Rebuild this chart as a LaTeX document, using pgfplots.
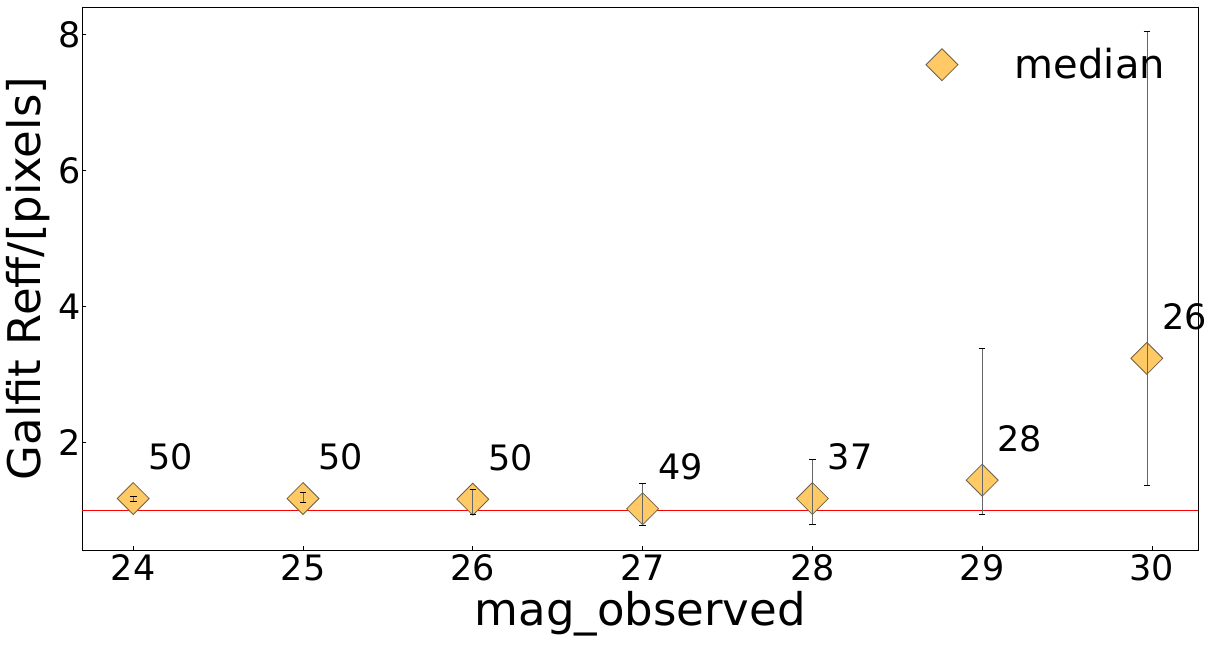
\documentclass[border=0pt]{standalone}
\usepackage{fontspec}
\setmainfont{DejaVu Sans}
\usepackage{pgfplots}
\usepackage{pgfplotstable}
\pgfplotsset{compat=1.18}

\definecolor{mfill}{RGB}{255,201,102}
\definecolor{medge}{RGB}{110,96,72}

% x, median, upper and lower error, count
\pgfplotstableread{
x      y     ep    em    n
24     1.18  0.03  0.04  50
25     1.18  0.09  0.05  50
26     1.17  0.14  0.22  50
27     1.03  0.37  0.25  49
28     1.18  0.58  0.38  37
29     1.45  1.93  0.50  28
29.97  3.24  4.80  1.87  26
}\medtab

\begin{document}
\begin{tikzpicture}
\begin{axis}[
  name=ax,
  scale only axis,
  width=1116pt, height=542.7pt,
  xmin=23.70, xmax=30.273,
  ymin=0.424, ymax=8.397,
  xtick={24,25,26,27,28,29,30},
  ytick={2,4,6,8},
  xtick pos=bottom, ytick pos=left,
  tick align=inside,
  major tick length=4pt,
  tick style={black, line width=0.8pt},
  axis line style={line width=0.8pt},
  clip=false,
  clip marker paths=true,
  /pgf/number format/assume math mode=true,
  ticklabel style={font=\fontsize{35}{42}\selectfont},
  xticklabel style={anchor=base, yshift=-30.5pt, inner sep=0pt},
  yticklabel style={anchor=east, inner sep=0pt, xshift=-1pt},
  xlabel={mag\_observed},
  ylabel={Galfit Reff/[pixels]},
  xlabel style={font=\fontsize{45}{54}\selectfont, at={(axis description cs:0.5,0)}, anchor=base, yshift=-75pt, inner sep=0pt},
  ylabel style={font=\fontsize{45}{54}\selectfont, at={(axis description cs:0,0.5)}, anchor=base, yshift=42pt, inner sep=0pt},
  legend style={draw=none, fill=none, inner sep=0pt, at={(axis description cs:0.7558,0.948)}, anchor=north west,
    font=\fontsize{40}{48}\selectfont, column sep=0pt, nodes={inner sep=0pt}},
  legend cell align=left,
  legend image code/.code={\path[draw=none, fill=none] (-16pt,-4pt) rectangle (73pt,28pt); \draw[#1] plot coordinates {(0pt,-1pt)};},
]
\addplot[red, line width=0.7pt, forget plot] coordinates {(23.70,1.0) (30.273,1.0)};
\addplot[only marks, mark=square*, mark size=11.3pt,
  mark options={rotate=45, fill=mfill, draw=medge, line width=0.8pt},
  point meta=explicit symbolic,
  nodes near coords,
  every node near coord/.append style={black, anchor=base west, xshift=15pt, yshift=29pt, inner sep=0pt,
    font=\fontsize{35}{42}\selectfont}]
  table[x=x, y=y, meta=n] {\medtab};
\addlegendentry{median}
\addplot[draw=none, mark=none, forget plot,
  error bars/.cd, y dir=both, y explicit,
  error mark=-, error mark options={rotate=90, draw=black, mark size=3.3pt, line width=0.6pt},
  error bar style={draw=black!60, line width=0.7pt}]
  table[x=x, y=y, y error plus=ep, y error minus=em] {\medtab};
\end{axis}
\pgfresetboundingbox
\path ([shift={(-82.3pt,-95pt)}]ax.south west) rectangle ([shift={(14.7pt,7.3pt)}]ax.north east);
\end{tikzpicture}
\end{document}
